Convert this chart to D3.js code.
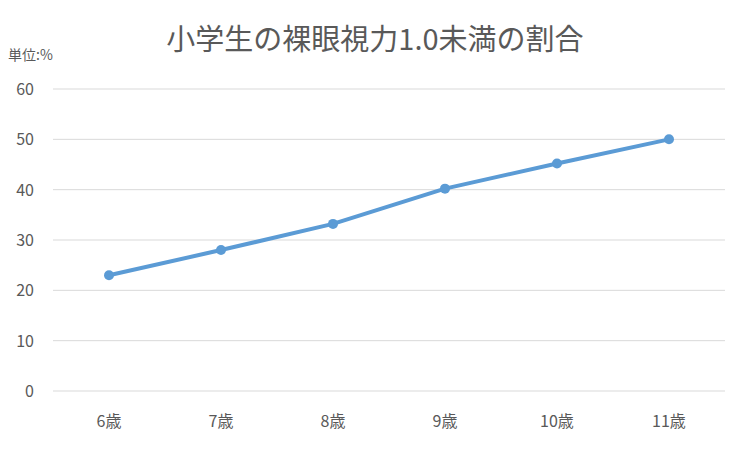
<!DOCTYPE html>
<html><head><meta charset="utf-8">
<script src="https://cdn.jsdelivr.net/npm/d3@7"></script>
<style>body{margin:0;background:#fff;font-family:"Noto Sans CJK JP","Noto Sans",sans-serif;}</style>
</head><body><div id="chart"></div>
<script>
var ages = ['6歳','7歳','8歳','9歳','10歳','11歳'];
var rates = [23, 28, 33.2, 40.2, 45.2, 50];
var yTicks = [0, 10, 20, 30, 40, 50, 60];

var svg = d3.select('#chart').append('svg')
	.attr('width', 750).attr('height', 449);

var x = d3.scaleBand().domain(ages).range([53, 725]);
var y = d3.scaleLinear().domain([0, 60]).range([391, 89]);

// grid lines
svg.selectAll('.grid').data(yTicks).enter().append('line')
	.attr('x1', 53).attr('x2', 725)
	.attr('y1', d => y(d)).attr('y2', d => y(d))
	.attr('stroke', '#d9d9d9').attr('stroke-width', 1);

svg.selectAll('.ytick').data(yTicks).enter().append('text')
	.attr('x', 34).attr('y', d => y(d) + 6)
	.attr('text-anchor', 'end').attr('font-size', 16).attr('fill', '#595959')
	.text(d => d);

svg.selectAll('.xtick').data(ages).enter().append('text')
	.attr('x', d => x(d) + x.bandwidth() / 2).attr('y', 427)
	.attr('text-anchor', 'middle').attr('font-size', 16).attr('fill', '#595959')
	.text(d => d);

var line = d3.line()
	.x((d, i) => x(ages[i]) + x.bandwidth() / 2)
	.y(d => y(d));

svg.append('path').datum(rates)
	.attr('d', line).attr('fill', 'none')
	.attr('stroke', '#5b9bd5').attr('stroke-width', 4).attr('stroke-linejoin', 'round');

svg.selectAll('.dot').data(rates).enter().append('circle')
	.attr('cx', (d, i) => x(ages[i]) + x.bandwidth() / 2)
	.attr('cy', d => y(d)).attr('r', 5)
	.attr('fill', '#5b9bd5');

svg.append('text').attr('x', 375).attr('y', 50)
	.attr('text-anchor', 'middle').attr('font-size', 29).attr('fill', '#595959')
	.text('小学生の裸眼視力1.0未満の割合');

svg.append('text').attr('x', 8).attr('y', 60)
	.attr('font-size', 14).attr('fill', '#595959')
	.text('単位:%');
</script></body></html>
